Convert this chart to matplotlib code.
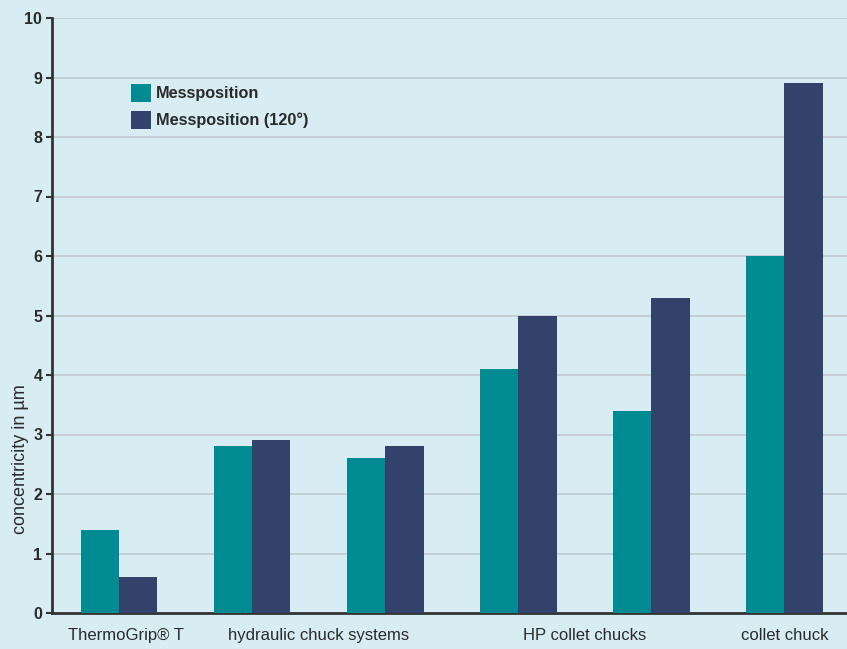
import matplotlib.pyplot as plt
import numpy as np

plt.rcParams['font.family'] = ['Liberation Sans', 'DejaVu Sans']

groups = np.arange(6)
messposition = [1.4, 2.8, 2.6, 4.1, 3.4, 6.0]
messposition_120 = [0.6, 2.9, 2.8, 5.0, 5.3, 8.9]

label_pos = [0.05, 1.5, 3.5, 5.0]
labels = ['ThermoGrip® T', 'hydraulic chuck systems', 'HP collet chucks', 'collet chuck']

bg = '#d8ecf3'
teal = '#008b93'
navy = '#33426b'
txt = '#2a2a2a'

fig = plt.figure(figsize=(8.47, 6.49), dpi=100, facecolor=bg)
ax = fig.add_axes([52/847, 36/649, 795/847, 595/649])
ax.set_facecolor(bg)

w = 0.288
ax.bar(groups - w/2, messposition, w, color=teal, label='Messposition', zorder=3)
ax.bar(groups + w/2, messposition_120, w, color=navy, label='Messposition (120°)', zorder=3)

ax.set_ylim(0, 10)
ax.set_xlim(-0.504, 5.47)
ax.set_yticks(range(11))
ax.yaxis.grid(True, color='#c4cbd0', linewidth=1.3, zorder=0)
ax.tick_params(axis='y', length=4, width=1.5, color='#333333', labelsize=11.5, pad=3)
for t in ax.get_yticklabels():
    t.set_fontweight('bold')
    t.set_color(txt)

ax.set_xticks(label_pos)
ax.set_xticklabels(labels, fontsize=12, color=txt)
ax.tick_params(axis='x', length=0, pad=11)

for s in ['top', 'right']:
    ax.spines[s].set_visible(False)
for s in ['left', 'bottom']:
    ax.spines[s].set_linewidth(2)
    ax.spines[s].set_color('#333333')

ax.set_ylabel('concentricity in µm', fontsize=13, color=txt)
ax.yaxis.set_label_coords(-0.029, 0.259)

ax.legend(loc='upper left', bbox_to_anchor=(0.081, 0.913), frameon=False,
          prop={'size': 11.7, 'weight': 'bold'}, handlelength=1.2, handleheight=1.25,
          handletextpad=0.35, labelspacing=0.6, labelcolor=txt)

plt.savefig('out.png', dpi=100, facecolor=bg)
